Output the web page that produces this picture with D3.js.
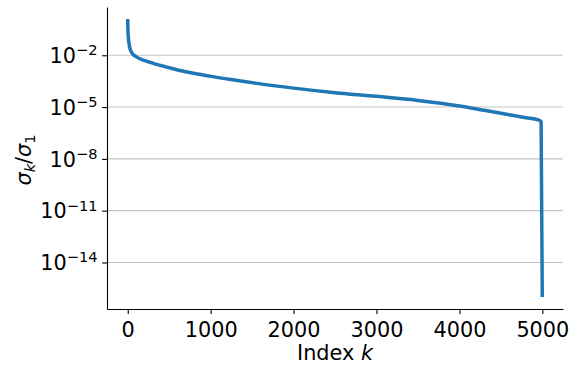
<!DOCTYPE html>
<html>
<head>
<meta charset="utf-8">
<script src="https://cdn.jsdelivr.net/npm/d3@7"></script>
<style>
  html, body { margin: 0; padding: 0; background: #fff; }
  svg { display: block; font-family: "DejaVu Sans", sans-serif; }
</style>
</head>
<body>
<svg id="chart" width="569" height="365"></svg>
<script>
// Normalised singular values sigma_k / sigma_1 against index k
const indexK = [0, 3, 8, 15, 30, 60, 100, 200, 300, 500, 700, 1000, 1300, 1600,
  2000, 2500, 3000, 3500, 4000, 4300, 4600, 4800, 4950, 4985, 4999];
const sigmaRatio = [1, 2.5e-1, 1.0e-1, 5.0e-2, 2.2e-2, 1.2e-2, 8.3e-3, 5.0e-3, 3.5e-3,
  1.9e-3, 1.1e-3, 6.0e-4, 3.6e-4, 2.2e-4, 1.25e-4, 6.8e-5, 4.2e-5, 2.4e-5, 1.15e-5,
  6.5e-6, 3.6e-6, 2.4e-6, 1.8e-6, 1.4e-6, 1.26e-16];

const xTicks = [0, 1000, 2000, 3000, 4000, 5000];
const yTickExponents = [-2, -5, -8, -11, -14];

const data = indexK.map((k, i) => ({ k, v: sigmaRatio[i] }));

const svg = d3.select("#chart");
const plotLeft = 107, plotRight = 563, plotTop = 7, plotBottom = 309;
const fontSize = 20.8;

// matplotlib-style 5% padding around the data range
const kExt = d3.extent(indexK);
const kPad = (kExt[1] - kExt[0] + 1) * 0.05;
const x = d3.scaleLinear()
  .domain([kExt[0] - kPad, kExt[1] + kPad])
  .range([plotLeft, plotRight]);

const lExt = d3.extent(sigmaRatio.map(v => Math.log10(v)));
const lPad = (lExt[1] - lExt[0]) * 0.05;
const y = d3.scaleLog()
  .domain([Math.pow(10, lExt[1] + lPad), Math.pow(10, lExt[0] - lPad)])
  .range([plotTop, plotBottom]);

// horizontal grid lines at the major decades
svg.append("g")
  .selectAll("line")
  .data(yTickExponents)
  .join("line")
  .attr("x1", plotLeft).attr("x2", plotRight)
  .attr("y1", d => y(Math.pow(10, d))).attr("y2", d => y(Math.pow(10, d)))
  .attr("stroke", "#c4c4c4")
  .attr("stroke-width", 1.1);

// the decay curve
const line = d3.line()
  .x(d => x(d.k))
  .y(d => y(d.v))
  .curve(d3.curveMonotoneX);

svg.append("path")
  .datum(data)
  .attr("d", line)
  .attr("fill", "none")
  .attr("stroke", "#1f77b4")
  .attr("stroke-width", 3.5)
  .attr("stroke-linecap", "square")
  .attr("stroke-linejoin", "round");

// x axis
const xAxis = svg.append("g")
  .attr("transform", `translate(0,${plotBottom})`)
  .call(d3.axisBottom(x).tickValues(xTicks).tickFormat(d3.format("d"))
    .tickSize(4.9).tickPadding(6).tickSizeOuter(0));
xAxis.select(".domain").attr("stroke", "#000").attr("stroke-width", 1.1);
xAxis.selectAll(".tick line").attr("stroke", "#000").attr("stroke-width", 1.1);
xAxis.selectAll(".tick text")
  .attr("font-family", "DejaVu Sans")
  .attr("font-size", fontSize)
  .attr("fill", "#000")
  .attr("dy", null)
  .attr("y", 27.5);

// y axis with 10^n labels
const yAxis = svg.append("g")
  .attr("transform", `translate(${plotLeft},0)`)
  .call(d3.axisLeft(y)
    .tickValues(yTickExponents.map(e => Math.pow(10, e)))
    .tickSize(4.9).tickSizeOuter(0).tickFormat(""));
yAxis.select(".domain").attr("stroke", "#000").attr("stroke-width", 1.1);
yAxis.selectAll(".tick line").attr("stroke", "#000").attr("stroke-width", 1.1);

const yLabels = svg.append("g").attr("font-size", fontSize).attr("fill", "#000");
yTickExponents.forEach(e => {
  const t = yLabels.append("text")
    .attr("x", plotLeft - 9.5)
    .attr("y", y(Math.pow(10, e)) + 7.8)
    .attr("text-anchor", "end");
  t.append("tspan").text("10");
  t.append("tspan")
    .attr("font-size", fontSize * 0.7)
    .attr("dy", -7.8)
    .text("\u2212" + Math.abs(e));
});

// axis titles
svg.append("text")
  .attr("x", (plotLeft + plotRight) / 2)
  .attr("y", 360)
  .attr("text-anchor", "middle")
  .attr("font-size", fontSize)
  .call(t => {
    t.append("tspan").text("Index ");
    t.append("tspan").attr("font-style", "italic").text("k");
  });

const yt = svg.append("text")
  .attr("transform", "translate(31,160) rotate(-90)")
  .attr("text-anchor", "middle")
  .attr("font-size", fontSize);
yt.append("tspan").attr("font-style", "italic").text("\u03c3");
yt.append("tspan").attr("font-style", "italic").attr("font-size", fontSize * 0.7).attr("dy", 3.5).text("k");
yt.append("tspan").attr("dy", -3.5).text("/");
yt.append("tspan").attr("font-style", "italic").text("\u03c3");
yt.append("tspan").attr("font-size", fontSize * 0.7).attr("dy", 3.5).text("1");
</script>
</body>
</html>
